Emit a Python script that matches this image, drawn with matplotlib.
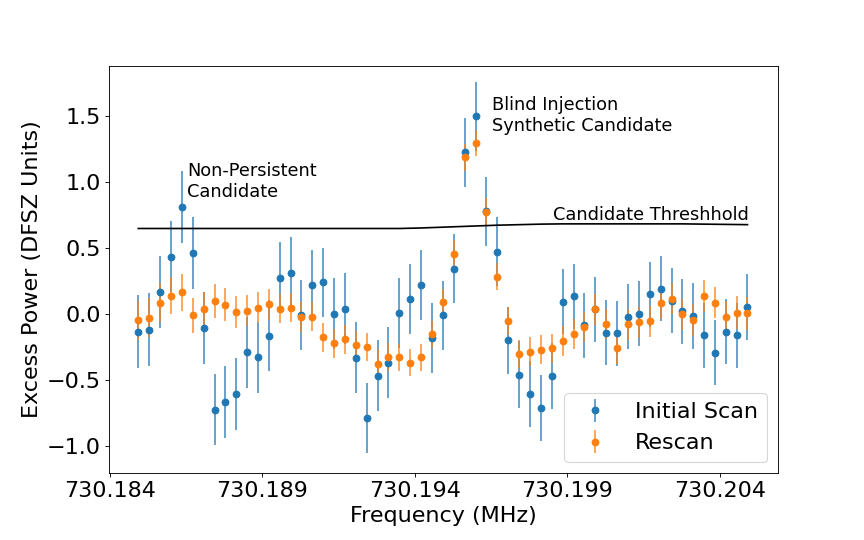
import matplotlib
matplotlib.use("Agg")
import matplotlib.pyplot as plt

freqs = [730.18494, 730.18530, 730.18565, 730.18601, 730.18637, 730.18672, 730.18708, 730.18744,
         730.18779, 730.18815, 730.18851, 730.18886, 730.18922, 730.18958, 730.18993, 730.19029,
         730.19065, 730.19100, 730.19136, 730.19172, 730.19207, 730.19243, 730.19279, 730.19314,
         730.19350, 730.19386, 730.19421, 730.19457, 730.19493, 730.19528, 730.19564, 730.19600,
         730.19635, 730.19671, 730.19707, 730.19742, 730.19778, 730.19814, 730.19849, 730.19885,
         730.19921, 730.19956, 730.19992, 730.20028, 730.20063, 730.20099, 730.20135, 730.20170,
         730.20206, 730.20242, 730.20277, 730.20313, 730.20349, 730.20384, 730.20420, 730.20456,
         730.20491]

initial_power = [-0.137, -0.12, 0.167, 0.433, 0.808, 0.458, -0.106, -0.727, -0.669, -0.608,
                 -0.294, -0.332, -0.167, 0.274, 0.312, -0.01, 0.22, 0.238, 0.0, 0.038,
                 -0.334, -0.79, -0.469, -0.37, 0.008, 0.109, 0.22, -0.182, -0.013, 0.342,
                 1.223, 1.497, 0.775, 0.471, -0.203, -0.461, -0.608, -0.714, -0.469, 0.091,
                 0.132, -0.089, 0.033, -0.144, -0.149, -0.023, 0.0, 0.147, 0.19, 0.099,
                 0.018, -0.018, -0.165, -0.296, -0.137, -0.165, 0.048]

initial_err = [0.275, 0.275, 0.273, 0.272, 0.272, 0.272, 0.272, 0.272, 0.272, 0.271,
               0.271, 0.271, 0.270, 0.270, 0.268, 0.266, 0.264, 0.262, 0.268, 0.268,
               0.268, 0.268, 0.267, 0.267, 0.266, 0.266, 0.265, 0.264, 0.263, 0.260,
               0.260, 0.260, 0.260, 0.260, 0.252, 0.253, 0.253, 0.253, 0.250, 0.248,
               0.246, 0.247, 0.247, 0.247, 0.247, 0.247, 0.247, 0.247, 0.247, 0.247,
               0.247, 0.247, 0.247, 0.247, 0.247, 0.248, 0.250]

rescan_power = [-0.05, -0.03, 0.084, 0.137, 0.162, -0.013, 0.038, 0.094, 0.068, 0.015,
                0.023, 0.046, 0.071, 0.038, 0.046, -0.025, -0.023, -0.18, -0.225, -0.195,
                -0.236, -0.251, -0.38, -0.327, -0.332, -0.37, -0.332, -0.157, 0.086, 0.456,
                1.185, 1.292, 0.77, 0.281, -0.053, -0.304, -0.289, -0.274, -0.263, -0.205,
                -0.157, -0.104, 0.033, -0.076, -0.263, -0.081, -0.066, -0.058, 0.079, 0.114,
                -0.005, -0.048, 0.132, 0.084, -0.028, 0.008, 0.003]

rescan_err = [0.15, 0.15, 0.147, 0.142, 0.14, 0.135, 0.13, 0.128, 0.125, 0.122,
              0.12, 0.118, 0.115, 0.112, 0.11, 0.11, 0.11, 0.109, 0.108, 0.108,
              0.108, 0.108, 0.11, 0.108, 0.106, 0.105, 0.105, 0.105, 0.105, 0.105,
              0.10, 0.10, 0.105, 0.105, 0.106, 0.108, 0.11, 0.11, 0.112, 0.112,
              0.114, 0.114, 0.115, 0.115, 0.115, 0.116, 0.117, 0.118, 0.118, 0.12,
              0.12, 0.12, 0.12, 0.12, 0.122, 0.125, 0.127]

threshold = [0.646, 0.646, 0.646, 0.646, 0.646, 0.646, 0.646, 0.646, 0.646, 0.646,
             0.646, 0.646, 0.646, 0.646, 0.646, 0.646, 0.646, 0.646, 0.646, 0.646,
             0.646, 0.646, 0.646, 0.646, 0.646, 0.648, 0.650, 0.653, 0.656, 0.659,
             0.662, 0.665, 0.668, 0.671, 0.673, 0.675, 0.677, 0.679, 0.680, 0.681,
             0.681, 0.681, 0.681, 0.681, 0.681, 0.681, 0.681, 0.681, 0.681, 0.681,
             0.681, 0.680, 0.679, 0.678, 0.677, 0.676, 0.675]

x_ticks = [730.184, 730.189, 730.194, 730.199, 730.204]
x_tick_labels = ['730.184', '730.189', '730.194', '730.199', '730.204']
y_ticks = [-1.0, -0.5, 0.0, 0.5, 1.0, 1.5]

BIG = 20
SMALL = 16

fig = plt.figure(figsize=(10.8, 6.75), dpi=80)
ax = fig.add_axes([0.1258, 0.1235, 0.775, 0.7548])

e1 = ax.errorbar(freqs, initial_power, yerr=initial_err, fmt='o', color='#1f77b4',
                 markersize=6, label='Initial Scan')
e1[2][0].set_alpha(0.8)
e2 = ax.errorbar(freqs, rescan_power, yerr=rescan_err, fmt='o', color='#ff7f0e',
                 markersize=6, label='Rescan')
e2[2][0].set_alpha(0.8)

ax.plot(freqs, threshold, color='black', lw=1.5)

ax.text(730.18654, 0.886, "Non-Persistent\nCandidate", fontsize=SMALL, ha='left', va='baseline')
ax.text(730.19653, 1.388, "Blind Injection\nSynthetic Candidate", fontsize=SMALL, ha='left', va='baseline')
ax.text(freqs[-1] + 0.00006, 0.709, "Candidate Threshhold", fontsize=SMALL, ha='right', va='baseline')

ax.set_xlim(730.18397, 730.20592)
ax.set_ylim(-1.21, 1.88)
ax.set_xticks(x_ticks)
ax.set_xticklabels(x_tick_labels)
ax.set_yticks(y_ticks)
ax.tick_params(labelsize=BIG)
ax.set_xlabel("Frequency (MHz)", fontsize=BIG)
ax.set_ylabel("Excess Power (DFSZ Units)", fontsize=BIG)
ax.legend(loc='lower right', fontsize=BIG)

fig.savefig("out.png", dpi=80)
